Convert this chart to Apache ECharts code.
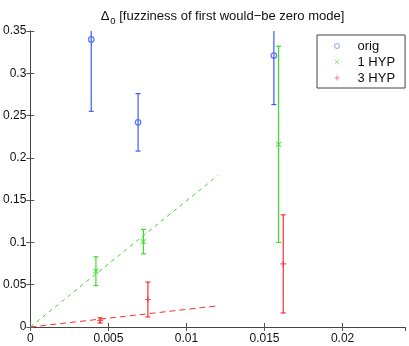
<!DOCTYPE html>
<html>
<head>
<meta charset="utf-8">
<script src="https://cdn.jsdelivr.net/npm/echarts@6/dist/echarts.min.js"></script>
<style>html,body{margin:0;padding:0;background:#fff}#c{width:409px;height:346px}</style>
</head>
<body>
<div id="c"></div>
<script>
// ---- data ----
const seriesNames = ['orig', '1 HYP', '3 HYP'];
const origX = [0.0039, 0.0069, 0.0156];
const origY = [0.340, 0.242, 0.321];
const origErr = [0.085, 0.034, 0.058];
const hyp1X = [0.0042, 0.00724, 0.0159];
const hyp1Y = [0.066, 0.101, 0.216];
const hyp1Err = [0.017, 0.0145, 0.116];
const hyp3X = [0.00447, 0.00753, 0.0162];
const hyp3Y = [0.0078, 0.0325, 0.0746];
const hyp3Err = [0.003, 0.0206, 0.058];
const fitX = [0, 0.012];
const fit1Y = [0, 0.179];
const fit3Y = [0, 0.025];
const xTicks = [0, 0.005, 0.01, 0.015, 0.02];
const yTicks = [0, 0.05, 0.1, 0.15, 0.2, 0.25, 0.3, 0.35];

const BLUE = '#3a5cff', GREEN = '#3ddc2a', RED = '#ff2e2e';
const FONT = 'Liberation Sans, Arial, Helvetica, sans-serif';

function pts(xs, ys) { return xs.map((x, i) => [x, ys[i]]); }
function errData(xs, ys, es) { return xs.map((x, i) => [x, ys[i] - es[i], ys[i] + es[i]]); }

function errSeries(xs, ys, es, color) {
  return {
    type: 'custom', clip: true, silent: true, z: 3,
    data: errData(xs, ys, es),
    encode: { x: 0, y: [1, 2] },
    renderItem: function (params, api) {
      const lo = api.coord([api.value(0), api.value(1)]);
      const hi = api.coord([api.value(0), api.value(2)]);
      const w = 2.5;
      const st = { stroke: color, lineWidth: 1.2 };
      return {
        type: 'group',
        children: [
          { type: 'line', shape: { x1: lo[0], y1: lo[1], x2: hi[0], y2: hi[1] }, style: st },
          { type: 'line', shape: { x1: lo[0] - w, y1: lo[1], x2: lo[0] + w, y2: lo[1] }, style: st },
          { type: 'line', shape: { x1: hi[0] - w, y1: hi[1], x2: hi[0] + w, y2: hi[1] }, style: st }
        ]
      };
    }
  };
}

const axisCommon = {
  type: 'value',
  axisLine: { show: true, lineStyle: { color: '#444', width: 1 } },
  axisTick: { show: true, inside: true, length: 4, lineStyle: { color: '#555' } },
  splitLine: { show: false },
  axisLabel: { color: '#111', fontFamily: FONT, fontSize: 12 }
};

const chart = echarts.init(document.getElementById('c'), null, { renderer: 'canvas' });
chart.setOption({
  animation: false,
  backgroundColor: '#fff',
  title: {
    text: '{a|Δ}{s|0}{a| [fuzziness of first would−be zero mode]}',
    left: 217.5, top: 2, textAlign: 'center',
    textStyle: {
      fontWeight: 'normal',
      rich: {
        a: { fontFamily: FONT, fontSize: 13, color: '#111', fontWeight: 'normal' },
        s: { fontFamily: FONT, fontSize: 9.5, color: '#111', fontWeight: 'normal', padding: [9, 0, 0, 1] }
      }
    }
  },
  grid: { left: 30, right: 4, top: 31, bottom: 19, containLabel: false },
  legend: {
    orient: 'vertical',
    left: 317, top: 35,
    borderColor: '#444', borderWidth: 1, borderRadius: 0,
    backgroundColor: '#fff',
    padding: [4, 10, 3, 17],
    itemGap: 2,
    itemWidth: 5, itemHeight: 5,
    data: [
      { name: 'orig', itemStyle: { borderWidth: 1, color: 'rgba(0,0,0,0)', borderColor: '#6f85ff' } },
      { name: '1 HYP', itemStyle: { borderWidth: 1, color: 'rgba(0,0,0,0)', borderColor: '#7be86a' } },
      { name: '3 HYP', itemStyle: { borderWidth: 1, color: 'rgba(0,0,0,0)', borderColor: '#ff6060' } }
    ],
    textStyle: { fontFamily: FONT, fontSize: 13, color: '#111', padding: [0, 0, 0, 13], lineHeight: 14 }
  },
  xAxis: [
    Object.assign({}, axisCommon, {
      position: 'bottom', min: 0, max: 0.024, interval: 0.005,
      axisLabel: Object.assign({}, axisCommon.axisLabel, {
        margin: 6, showMaxLabel: false,
        formatter: v => (xTicks.indexOf(+v.toFixed(3)) >= 0 ? String(+v.toFixed(3)) : '')
      })
    }),
    Object.assign({}, axisCommon, {
      position: 'top', min: 0, max: 0.024, interval: 0.005,
      axisLabel: { show: false }
    })
  ],
  yAxis: [
    Object.assign({}, axisCommon, {
      position: 'left', min: 0, max: 0.35, interval: 0.05,
      axisLabel: Object.assign({}, axisCommon.axisLabel, {
        margin: 4,
        formatter: v => (yTicks.indexOf(+v.toFixed(2)) >= 0 ? String(+v.toFixed(2)) : '')
      })
    }),
    Object.assign({}, axisCommon, {
      position: 'right', min: 0, max: 0.35, interval: 0.05,
      axisLabel: { show: false }
    })
  ],
  series: [
    {
      name: 'fit1', type: 'line', data: pts(fitX, fit1Y), symbol: 'none', silent: true,
      lineStyle: { color: GREEN, width: 1, type: [4, 4] }, z: 1
    },
    {
      name: 'fit3', type: 'line', data: pts(fitX, fit3Y), symbol: 'none', silent: true,
      lineStyle: { color: RED, width: 1, type: [6, 4] }, z: 1
    },
    errSeries(origX, origY, origErr, BLUE),
    errSeries(hyp1X, hyp1Y, hyp1Err, GREEN),
    errSeries(hyp3X, hyp3Y, hyp3Err, RED),
    {
      name: 'orig', type: 'scatter', data: pts(origX, origY), symbol: 'circle', symbolSize: 5.5, z: 4,
      itemStyle: { color: 'rgba(0,0,0,0)', borderColor: BLUE, borderWidth: 1.3 }
    },
    {
      name: '1 HYP', type: 'scatter', data: pts(hyp1X, hyp1Y), symbol: 'path://M0,0L10,10M10,0L0,10', symbolSize: 5, z: 4,
      itemStyle: { color: 'rgba(0,0,0,0)', borderColor: GREEN, borderWidth: 1.2 }
    },
    {
      name: '3 HYP', type: 'scatter', data: pts(hyp3X, hyp3Y), symbol: 'path://M5,0L5,10M0,5L10,5', symbolSize: 6, z: 4,
      itemStyle: { color: 'rgba(0,0,0,0)', borderColor: RED, borderWidth: 1.2 }
    }
  ]
});
</script>
</body>
</html>
